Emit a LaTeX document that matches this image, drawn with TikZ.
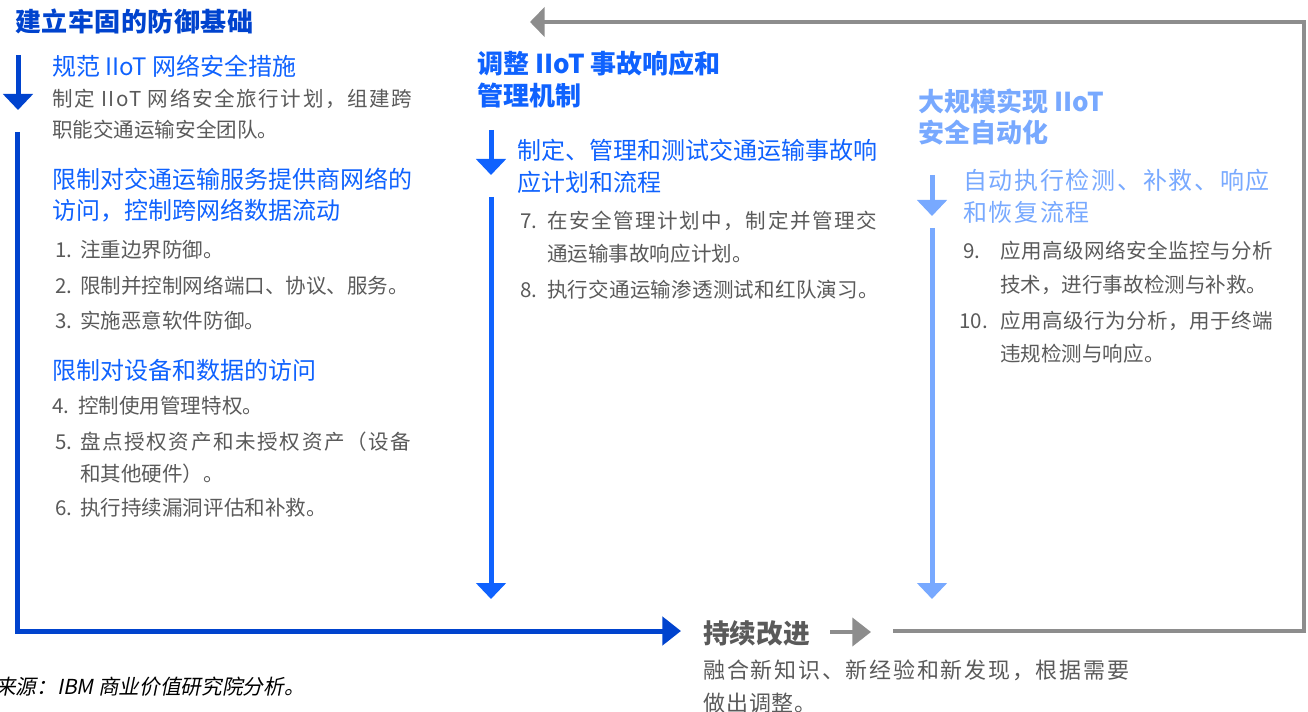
\documentclass[tikz,border=0pt]{standalone}
\usepackage{fontspec}
\setmainfont{Noto Sans CJK SC}
\newfontfamily\srcfont{Noto Sans CJK SC}[FakeSlant=0.2]
\usetikzlibrary{arrows.meta}
\definecolor{cA}{HTML}{0043CE}
\definecolor{cB}{HTML}{0F62FE}
\definecolor{cC}{HTML}{78A9FF}
\definecolor{gtxt}{HTML}{5A5A5A}
\definecolor{garr}{HTML}{8D8D8D}
\tikzset{
  ttl/.style={anchor=base west, inner sep=0pt, font=\fontsize{19.5}{22}\selectfont\bfseries},
  hd/.style={anchor=base west, inner sep=0pt, font=\fontsize{18}{20}\selectfont},
  bd/.style={anchor=base west, inner sep=0pt, text=gtxt, font=\fontsize{15.4}{18}\selectfont},
  jst/.style={font=\fontsize{15.4}{18}\selectfont\addfontfeatures{LetterSpace=#1}},
  flowA/.style={draw=cA, line width=3.75pt, line join=miter},
  flowB/.style={draw=cB, line width=3.75pt},
  flowC/.style={draw=cC, line width=3.75pt},
  flowG/.style={draw=garr, line width=3pt, line join=miter},
  tipV/.style={-{Triangle[width=22pt,length=12pt]}},
  tipH/.style={-{Triangle[width=21pt,length=14pt]}},
  tipT/.style={-{Triangle[width=22pt,length=11pt]}},
}
\begin{document}
\begin{tikzpicture}[x=0.75pt,y=-0.75pt]
\useasboundingbox (0,0) rectangle (1308,712);

% ---------- column 1 ----------
\node[ttl, text=cA, font=\fontsize{19.5}{22}\selectfont\bfseries\addfontfeatures{LetterSpace=2}] (t1) at (15,32) {建立牢固的防御基础};
\node[hd, text=cB] (h1a) at (52,76) {规范 IIoT 网络安全措施};
\node[bd, jst=8] (b1a) at (52,107) {制定 IIoT 网络安全旅行计划，组建跨};
\node[bd] (b1b) at (52,138) {职能交通运输安全团队。};
\node[hd, text=cB] (h1b) at (52,189) {限制对交通运输服务提供商网络的};
\node[hd, text=cB] (h1c) at (52,220) {访问，控制跨网络数据流动};
\node[bd] (n1) at (55,258) {1.};  \node[bd] (i1) at (80,258) {注重边界防御。};
\node[bd] (n2) at (55,294) {2.};  \node[bd] (i2) at (80,294) {限制并控制网络端口、协议、服务。};
\node[bd] (n3) at (55,329) {3.};  \node[bd] (i3) at (80,329) {实施恶意软件防御。};
\node[hd, text=cB] (h1d) at (52,379) {限制对设备和数据的访问};
\node[bd] (n4) at (52,413) {4.};  \node[bd] (i4) at (78,413) {控制使用管理特权。};
\node[bd] (n5) at (55,449) {5.};  \node[bd, jst=8] (i5) at (80,449) {盘点授权资产和未授权资产（设备};
\node[bd] (i5b) at (80,481) {和其他硬件）。};
\node[bd] (n6) at (55,515) {6.};  \node[bd] (i6) at (80,515) {执行持续漏洞评估和补救。};

% ---------- column 2 ----------
\node[ttl, text=cB] (t2a) at (477,74) {调整 IIoT 事故响应和};
\node[ttl, text=cB] (t2b) at (477,106) {管理机制};
\node[hd, text=cB] (h2a) at (517,160) {制定、管理和测试交通运输事故响};
\node[hd, text=cB] (h2b) at (517,192) {应计划和流程};
\node[bd] (n7) at (520,229) {7.};  \node[bd, jst=7.5] (i7) at (547,229) {在安全管理计划中，制定并管理交};
\node[bd] (i7b) at (547,262) {通运输事故响应计划。};
\node[bd] (n8) at (520,298) {8.};  \node[bd, jst=1] (i8) at (547,298) {执行交通运输渗透测试和红队演习。};

% ---------- column 3 ----------
\node[ttl, text=cC] (t3a) at (918,112) {大规模实现 IIoT};
\node[ttl, text=cC] (t3b) at (918,143) {安全自动化};
\node[hd, text=cC, font=\fontsize{18}{20}\selectfont\addfontfeatures{LetterSpace=7}] (h3a) at (963,190) {自动执行检测、补救、响应};
\node[hd, text=cC, font=\fontsize{18}{20}\selectfont\addfontfeatures{LetterSpace=7}] (h3b) at (963,222) {和恢复流程};
\node[bd] (n9) at (963,259) {9.};  \node[bd, jst=2.5] (i9) at (1000,259) {应用高级网络安全监控与分析};
\node[bd] (i9b) at (1000,293) {技术，进行事故检测与补救。};
\node[bd] (n10) at (959,329) {10.}; \node[bd, jst=2.5] (i10) at (1000,329) {应用高级行为分析，用于终端};
\node[bd] (i10b) at (1000,362) {违规检测与响应。};

% ---------- bottom ----------
\node[ttl, text=gtxt, font=\fontsize{20}{22}\selectfont\bfseries] (ci) at (703,643) {持续改进};
\node[bd, font=\fontsize{16.5}{19}\selectfont\addfontfeatures{LetterSpace=8}] (cia) at (703,678) {融合新知识、新经验和新发现，根据需要};
\node[bd, font=\fontsize{16.5}{19}\selectfont\addfontfeatures{LetterSpace=4}] (cib) at (703,711) {做出调整。};
\node[anchor=base west, inner sep=0pt, text=black, font=\fontsize{15.5}{18}\srcfont] (src) at (-5,694) {来源：IBM 商业价值研究院分析。};

% ---------- arrows ----------
\coordinate (a1s) at (18,55);  \coordinate (a1e) at (18,110);
\coordinate (a1l) at (17,132); \coordinate (a1c) at (17,631); \coordinate (a1r) at (681,631);
\coordinate (a2s) at (491,130); \coordinate (a2e) at (491,175);
\coordinate (a2l) at (491,197); \coordinate (a2r) at (491,599);
\coordinate (a3s) at (932,175); \coordinate (a3e) at (932,216);
\coordinate (a3l) at (932,228); \coordinate (a3r) at (932,599);
\coordinate (gs) at (830,632);  \coordinate (ge) at (871,632);
\coordinate (g1) at (893,631);  \coordinate (g2) at (1304,631);
\coordinate (g3) at (1304,22);  \coordinate (g4) at (530,22);

\draw[flowA, tipV] (a1s) -- (a1e);
\draw[flowA, tipH] (a1l) -- (a1c) -- (a1r);
\draw[flowB, tipV] (a2s) -- (a2e);
\draw[flowB, tipV] (a2l) -- (a2r);
\draw[flowC, tipV] (a3s) -- (a3e);
\draw[flowC, tipV] (a3l) -- (a3r);
\draw[flowG, tipH] (gs) -- (ge);
\draw[flowG, tipT] (g1) -- (g2) -- (g3) -- (g4);
\end{tikzpicture}
\end{document}
